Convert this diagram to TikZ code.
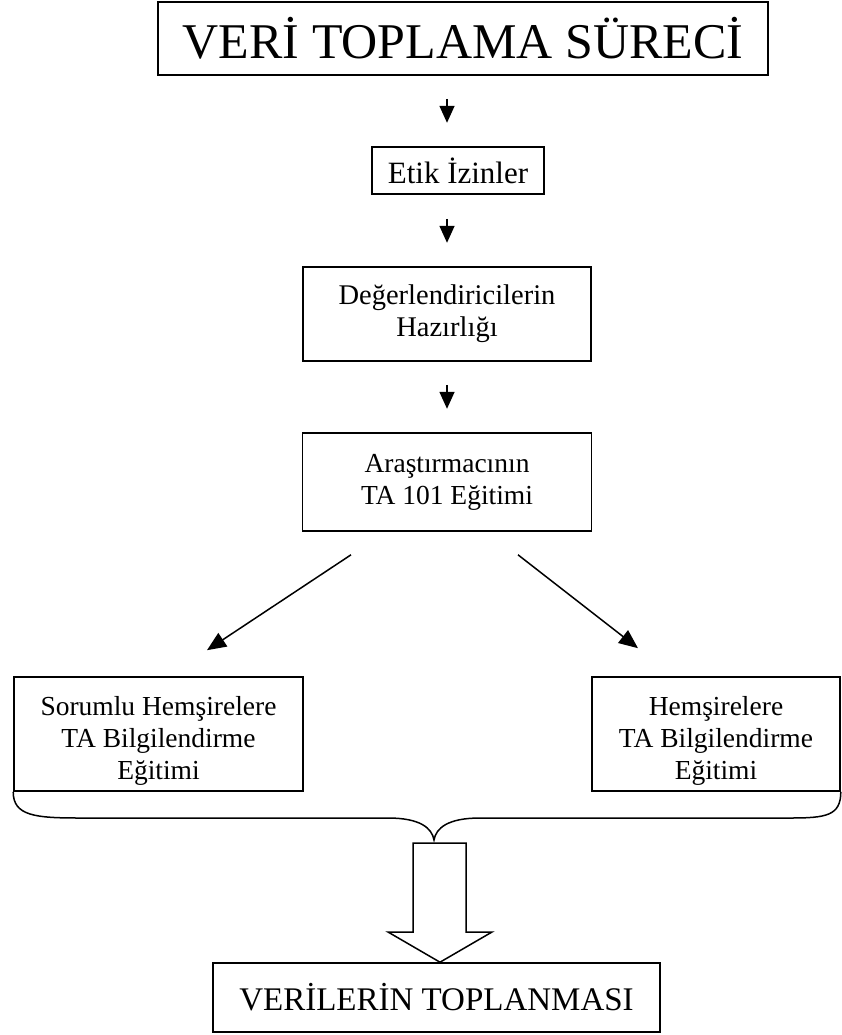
\documentclass[tikz,border=0pt]{standalone}
\usepackage{fontspec}
\setmainfont{Liberation Serif}
\usetikzlibrary{arrows.meta,calc}
\newcommand{\toppad}{\rule{0pt}{32pt}}
\begin{document}
\begin{tikzpicture}[x=1pt,y=-1pt,
  box/.style={draw, line width=1.6pt, inner sep=0pt, align=center,
    font=\fontsize{27.5}{32}\selectfont},
  arr/.style={line width=1.5pt, -{Triangle[width=15pt,length=17pt]}},
  diagarr/.style={line width=1.5pt, -{Triangle[width=16pt,length=19pt]}},
  outline/.style={line width=1.5pt, line join=miter}]
\useasboundingbox (0,0) rectangle (841,1035);

% boxes
\node[box, minimum width=610, minimum height=73,
      font=\fontsize{50}{56}\selectfont] (title) at (463,38.5) {VERİ TOPLAMA SÜRECİ};
\node[box, minimum width=172, minimum height=47,
      font=\fontsize{31}{36}\selectfont] (etik) at (458,170.5) {Etik İzinler};
\node[box, minimum width=288, minimum height=94,
      font=\fontsize{28.5}{32}\selectfont] (deg) at (447,314) {Değerlendiricilerin\\Hazırlığı};
\node[box, minimum width=289, minimum height=98] (aras) at (447,482) {Araştırmacının\\TA 101 Eğitimi};
\node[box, minimum width=289, minimum height=114] (sorumlu) at (158.5,734) {\toppad Sorumlu Hemşirelere\\TA Bilgilendirme\\Eğitimi};
\node[box, minimum width=248, minimum height=114] (hems) at (716,734) {\toppad Hemşirelere\\TA Bilgilendirme\\Eğitimi};
\node[box, minimum width=447, minimum height=69,
      font=\fontsize{33}{40}\selectfont] (final) at (436.5,997.5) {VERİLERİN TOPLANMASI};

% short arrows between the upper steps
\draw[arr] ($(title.south)+(-16,23)$) -- ++(0,24);
\draw[arr] ($(etik.south)+(-11,24)$) -- ++(0,24);
\draw[arr] ($(deg.south)+(0,23)$) -- ++(0,24);

% branching arrows
\draw[diagarr] ($(aras.south)+(-96,23)$) -- ($(sorumlu.north)+(48.5,-26)$);
\draw[diagarr] ($(aras.south)+(71,23)$) -- ($(hems.north)+(-78,-28)$);

% brace joining the two training boxes
\coordinate (tip) at (434,840);
\draw[line width=1.5pt] (sorumlu.south west)
  .. controls ($(sorumlu.south west)+(0,24)$) and (35,818) .. (80,818)
  -- (388,818) .. controls (420,818) and (432,828) .. (tip)
  .. controls (436,828) and (448,818) .. (480,818)
  -- (790,818) .. controls (826,818) and ($(hems.south east)+(0,24)$) .. (hems.south east);

% block arrow into the final step
\draw[outline, fill=white] (413,843) -- (466,843) -- (466,932) -- (492,932)
  -- (final.north -| 440,0) -- (388,932) -- (413,932) -- cycle;
\end{tikzpicture}
\end{document}
